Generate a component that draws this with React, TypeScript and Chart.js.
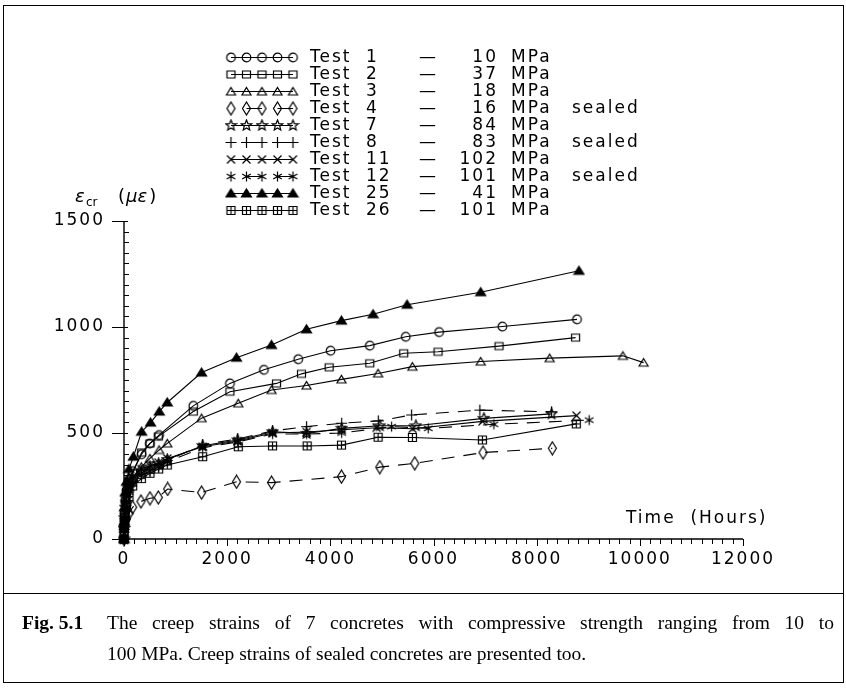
import React, { useEffect, useRef } from 'react';
import { Chart, registerables } from 'chart.js';

Chart.register(...registerables);

// ---- data (time in hours, creep strain in microstrain) ----
const test1Time = [0, 2, 8, 24, 48, 96, 168, 340, 500, 680, 1343, 2053, 2712, 3377, 4004, 4765, 5462, 6108, 7335, 8781];
const test1Strain = [0, 60, 120, 180, 230, 280, 320, 400, 450, 490, 628, 734, 798, 848, 888, 912, 954, 976, 1002, 1036];

const test2Time = [0, 2, 8, 24, 48, 96, 168, 342, 503, 664, 1343, 2053, 2957, 3441, 3977, 4765, 5423, 6088, 7270, 8755];
const test2Strain = [0, 55, 110, 170, 220, 270, 310, 408, 451, 483, 601, 695, 734, 779, 810, 829, 876, 883, 910, 950];

const test3Time = [0, 2, 8, 24, 48, 96, 168, 336, 504, 680, 839, 1504, 2215, 2860, 3538, 4216, 4926, 5591, 6915, 8252, 9672, 10073];
const test3Strain = [0, 50, 100, 150, 190, 240, 290, 340, 380, 420, 451, 570, 640, 703, 724, 753, 781, 813, 837, 853, 864, 832];

const test4Time = [0, 2, 8, 24, 48, 96, 168, 329, 503, 664, 846, 1504, 2182, 2860, 4216, 4958, 5637, 6960, 8304];
const test4Strain = [0, 30, 50, 70, 95, 120, 150, 177, 192, 196, 236, 219, 270, 266, 294, 339, 357, 408, 428];

const test7Time = [0, 2, 8, 24, 48, 96, 168, 336, 504, 672, 839, 1525, 2203, 2881, 3540, 4219, 4961, 5659, 6977, 8289];
const test7Strain = [0, 50, 100, 150, 190, 240, 280, 320, 340, 355, 375, 440, 467, 506, 498, 522, 534, 534, 569, 590];

const test8Time = [0, 2, 8, 24, 48, 96, 168, 336, 504, 672, 839, 1525, 2203, 2881, 3540, 4219, 4929, 5575, 6899, 8289];
const test8Strain = [0, 45, 95, 140, 180, 230, 270, 310, 335, 350, 370, 445, 472, 510, 530, 546, 557, 585, 608, 600];

const test11Time = [0, 2, 8, 24, 48, 96, 168, 336, 504, 672, 839, 1525, 2203, 2881, 3540, 4219, 4897, 5594, 6951, 8773];
const test11Strain = [0, 55, 105, 160, 200, 250, 290, 330, 345, 360, 380, 435, 462, 500, 505, 515, 525, 520, 555, 582];

const test12Time = [0, 2, 8, 24, 48, 96, 168, 336, 504, 672, 839, 1525, 2203, 2881, 3540, 4219, 5187, 5898, 7171, 9018];
const test12Strain = [0, 40, 85, 130, 170, 220, 260, 300, 320, 340, 365, 430, 458, 495, 495, 500, 530, 522, 541, 561];

const test25Time = [0, 2, 8, 24, 48, 96, 182, 342, 516, 684, 839, 1504, 2182, 2860, 3538, 4216, 4829, 5488, 6915, 8820];
const test25Strain = [0, 80, 150, 220, 270, 330, 388, 506, 549, 601, 644, 785, 855, 915, 989, 1030, 1060, 1105, 1164, 1265];

const test26Time = [0, 2, 8, 24, 48, 96, 168, 336, 504, 672, 839, 1525, 2215, 2880, 3551, 4216, 4926, 5591, 6948, 8768];
const test26Strain = [0, 35, 70, 100, 150, 200, 250, 285, 310, 330, 349, 388, 435, 439, 439, 443, 480, 479, 467, 543];

const testNumbers = ['1', '2', '3', '4', '7', '8', '11', '12', '25', '26'];
const testStrengths = ['10', '37', '18', '16', '84', '83', '102', '101', '41', '101'];
const testSealed = [false, false, false, true, false, true, false, true, false, false];
const testDashed = [false, false, false, true, false, true, false, true, false, false];
const testMarkers = ['circle', 'square', 'triangle', 'diamond', 'star5', 'plus', 'cross', 'asterisk', 'triFilled', 'boxPlus'];
const testTimes = [test1Time, test2Time, test3Time, test4Time, test7Time, test8Time, test11Time, test12Time, test25Time, test26Time];
const testStrains = [test1Strain, test2Strain, test3Strain, test4Strain, test7Strain, test8Strain, test11Strain, test12Strain, test25Strain, test26Strain];

const xTickStep = 2000;
const yTickStep = 500;
const xMax = 12000;
const yMax = 1500;

const FONT = '"DejaVu Sans", "Liberation Sans", sans-serif';

function makeMarker(kind: string): HTMLCanvasElement {
  const c = document.createElement('canvas');
  const size = kind === 'diamond' ? [11, 15] : [13, 13];
  c.width = size[0];
  c.height = size[1];
  const g = c.getContext('2d') as CanvasRenderingContext2D;
  g.strokeStyle = '#000';
  g.fillStyle = '#000';
  g.lineWidth = 1.2;
  const cx = c.width / 2;
  const cy = c.height / 2;
  g.beginPath();
  switch (kind) {
    case 'circle':
      g.arc(cx, cy, 4.3, 0, Math.PI * 2);
      g.stroke();
      break;
    case 'square':
      g.rect(cx - 4, cy - 3.5, 8, 7);
      g.stroke();
      break;
    case 'triangle':
      g.moveTo(cx, cy - 4);
      g.lineTo(cx + 4.5, cy + 3.5);
      g.lineTo(cx - 4.5, cy + 3.5);
      g.closePath();
      g.stroke();
      break;
    case 'triFilled':
      g.moveTo(cx, cy - 4.5);
      g.lineTo(cx + 5, cy + 3.5);
      g.lineTo(cx - 5, cy + 3.5);
      g.closePath();
      g.fill();
      g.stroke();
      break;
    case 'diamond':
      g.moveTo(cx, 1);
      g.lineTo(cx + 4, cy);
      g.lineTo(cx, c.height - 1);
      g.lineTo(cx - 4, cy);
      g.closePath();
      g.stroke();
      break;
    case 'star5': {
      for (let i = 0; i < 10; i++) {
        const r = i % 2 === 0 ? 5.5 : 2.4;
        const a = -Math.PI / 2 + (i * Math.PI) / 5;
        const px = cx + r * Math.cos(a);
        const py = cy + r * Math.sin(a);
        if (i === 0) g.moveTo(px, py);
        else g.lineTo(px, py);
      }
      g.closePath();
      g.stroke();
      break;
    }
    case 'plus':
      g.moveTo(cx, cy - 5.5);
      g.lineTo(cx, cy + 5.5);
      g.moveTo(cx - 5.5, cy);
      g.lineTo(cx + 5.5, cy);
      g.stroke();
      break;
    case 'cross':
      g.moveTo(cx - 4, cy - 4);
      g.lineTo(cx + 4, cy + 4);
      g.moveTo(cx + 4, cy - 4);
      g.lineTo(cx - 4, cy + 4);
      g.stroke();
      break;
    case 'asterisk':
      g.moveTo(cx, cy - 5);
      g.lineTo(cx, cy + 5);
      g.moveTo(cx - 4.3, cy - 2.5);
      g.lineTo(cx + 4.3, cy + 2.5);
      g.moveTo(cx + 4.3, cy - 2.5);
      g.lineTo(cx - 4.3, cy + 2.5);
      g.stroke();
      break;
    case 'boxPlus':
      g.rect(cx - 4, cy - 4, 8, 8);
      g.moveTo(cx, cy - 4);
      g.lineTo(cx, cy + 4);
      g.moveTo(cx - 4, cy);
      g.lineTo(cx + 4, cy);
      g.stroke();
      break;
  }
  return c;
}

function makeDecorPlugin(markers: HTMLCanvasElement[]) {
  return {
    id: 'decor',
    beforeDraw(chart: any) {
      (chart.ctx as any).letterSpacing = '2px';
    },
    afterDraw(chart: any) {
      const ctx = chart.ctx as CanvasRenderingContext2D;
      const xs = chart.scales.x;
      const ys = chart.scales.y;
      const x0 = xs.getPixelForValue(0);
      const x1 = xs.getPixelForValue(xMax);
      const y0 = ys.getPixelForValue(0);
      const y1 = ys.getPixelForValue(yMax);
      ctx.save();
      ctx.strokeStyle = '#000';
      ctx.fillStyle = '#000';
      ctx.setLineDash([]);
      // axes
      ctx.lineWidth = 1.4;
      ctx.beginPath();
      ctx.moveTo(x0, y1);
      ctx.lineTo(x0, y0);
      ctx.lineTo(x1, y0);
      ctx.stroke();
      ctx.lineWidth = 1;
      ctx.beginPath();
      for (let v = 0; v <= yMax; v += 50) {
        const py = Math.round(ys.getPixelForValue(v)) + 0.5;
        if (v % yTickStep === 0) {
          ctx.moveTo(x0 - 12, py);
          ctx.lineTo(x0 + 4, py);
        } else {
          ctx.moveTo(x0, py);
          ctx.lineTo(x0 + 5, py);
        }
      }
      for (let t = 0; t <= xMax; t += 200) {
        const px = Math.round(xs.getPixelForValue(t)) + 0.5;
        ctx.moveTo(px, y0);
        ctx.lineTo(px, y0 + (t % xTickStep === 0 ? 7 : 5));
      }
      ctx.stroke();

      // axis titles
      (ctx as any).letterSpacing = '2px';
      ctx.textBaseline = 'alphabetic';
      ctx.textAlign = 'left';
      ctx.font = '17px ' + FONT;
      ctx.fillText('Time  (Hours)', 626, 523);

      // y title: eps_cr (mu eps)
      (ctx as any).letterSpacing = '0px';
      ctx.font = 'italic 18px ' + FONT;
      ctx.fillText('\u03B5', 75, 202);
      ctx.font = '12px ' + FONT;
      ctx.fillText('cr', 86, 206);
      ctx.font = '18px ' + FONT;
      let xx = 118;
      ctx.fillText('(', xx, 202);
      xx += ctx.measureText('(').width + 1;
      ctx.font = 'italic 18px ' + FONT;
      ctx.fillText('\u03BC\u03B5', xx, 202);
      xx += ctx.measureText('\u03BC\u03B5').width + 2;
      ctx.font = '18px ' + FONT;
      ctx.fillText(')', xx, 202);

      // legend
      (ctx as any).letterSpacing = '2px';
      ctx.font = '17px ' + FONT;
      ctx.textBaseline = 'middle';
      for (let i = 0; i < testNumbers.length; i++) {
        const ly = 57.5 + 17 * i;
        const mx = [231, 246.5, 262, 277.5, 293];
        ctx.lineWidth = 1.1;
        ctx.beginPath();
        if (testDashed[i]) {
          ctx.moveTo(mx[1], ly);
          ctx.lineTo(mx[2], ly);
          ctx.moveTo(mx[3], ly);
          ctx.lineTo(mx[4], ly);
        } else {
          ctx.moveTo(mx[0], ly);
          ctx.lineTo(mx[4], ly);
        }
        ctx.stroke();
        const m = markers[i];
        if (m) {
          for (const px of mx) {
            ctx.drawImage(m, px - m.width / 2, ly - m.height / 2);
          }
        }
        ctx.textAlign = 'left';
        ctx.fillText('Test', 310, ly);
        ctx.fillText(testNumbers[i], 366, ly);
        ctx.fillText('\u2014', 419, ly);
        ctx.textAlign = 'right';
        ctx.fillText(testStrengths[i], 498, ly);
        ctx.textAlign = 'left';
        ctx.fillText('MPa', 511, ly);
        if (testSealed[i]) ctx.fillText('sealed', 572, ly);
      }
      ctx.restore();
      (ctx as any).letterSpacing = '0px';
    },
  };
}

export default function App() {
  const ref = useRef<HTMLCanvasElement | null>(null);
  useEffect(() => {
    if (!ref.current) return;
    const markers = testMarkers.map((k) => makeMarker(k));
    const datasets = testNumbers.map((n, i) => ({
      label: 'Test ' + n + ' - ' + testStrengths[i] + ' MPa' + (testSealed[i] ? ' sealed' : ''),
      data: testTimes[i].map((t, j) => ({ x: t, y: testStrains[i][j] })),
      showLine: true,
      borderColor: '#000',
      backgroundColor: 'rgba(0,0,0,0)',
      borderWidth: 1.1,
      borderDash: testDashed[i] ? [13, 9] : [],
      pointStyle: markers[i],
      pointRadius: 5,
      tension: 0,
      clip: false as any,
    }));
    const chart: any = new Chart(ref.current, {
      type: 'scatter',
      data: { datasets },
      options: {
        responsive: false,
        animation: false,
        layout: { padding: { left: 0, top: 221, right: 103, bottom: 110 } },
        plugins: { legend: { display: false }, tooltip: { enabled: false } },
        scales: {
          x: {
            type: 'linear',
            min: 0,
            max: xMax,
            border: { display: false },
            grid: { display: false, drawTicks: false },
            ticks: {
              stepSize: xTickStep,
              color: '#000',
              font: { family: FONT, size: 17 },
              padding: 10,
              maxRotation: 0,
              autoSkip: false,
              callback: (v: any) => String(v),
            },
            afterFit: (s: any) => {
              s.height = 40;
            },
          },
          y: {
            type: 'linear',
            min: 0,
            max: yMax,
            border: { display: false },
            grid: { display: false, drawTicks: false },
            ticks: {
              stepSize: yTickStep,
              color: '#000',
              font: { family: FONT, size: 17 },
              padding: 19,
              callback: (v: any) => String(v),
            },
            afterFit: (s: any) => {
              s.width = 124;
            },
          },
        },
      },
      plugins: [makeDecorPlugin(markers)],
    });
    return () => chart.destroy();
  }, []);

  const serif = '"Liberation Serif", "Times New Roman", serif';
  return (
    <div style={{ position: 'absolute', left: 0, top: 0, width: 846, height: 689, background: '#fff' }}>
      <div
        style={{
          position: 'absolute',
          left: 3,
          top: 5,
          width: 841,
          height: 678,
          boxSizing: 'border-box',
          border: '1.6px solid #000',
        }}
      />
      <div style={{ position: 'absolute', left: 3, top: 593, width: 841, height: 0, borderTop: '1.4px solid #000' }} />
      <canvas ref={ref} width={846} height={689} style={{ position: 'absolute', left: 0, top: 0, width: 846, height: 689 }} />
      <div
        style={{
          position: 'absolute',
          left: 22,
          top: 610,
          fontFamily: serif,
          fontSize: 19.5,
          fontWeight: 'bold',
          lineHeight: '26px',
          whiteSpace: 'nowrap',
        }}
      >
        Fig. 5.1
      </div>
      <div
        style={{
          position: 'absolute',
          left: 107,
          top: 610,
          width: 727,
          fontFamily: serif,
          fontSize: 19.5,
          lineHeight: '26px',
          textAlign: 'justify',
          textAlignLast: 'justify' as any,
        }}
      >
        The creep strains of 7 concretes with compressive strength ranging from 10 to
      </div>
      <div
        style={{
          position: 'absolute',
          left: 107,
          top: 641,
          fontFamily: serif,
          fontSize: 19.5,
          lineHeight: '26px',
          whiteSpace: 'nowrap',
        }}
      >
        100 MPa. Creep strains of sealed concretes are presented too.
      </div>
    </div>
  );
}
